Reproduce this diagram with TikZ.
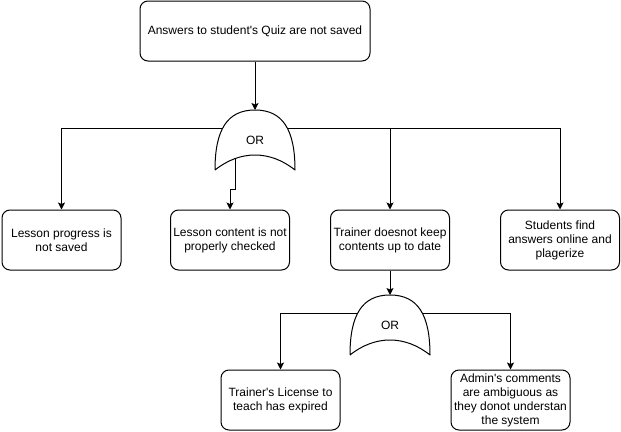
\documentclass[tikz,border=0pt]{standalone}
\usepackage{fontspec}
\setmainfont{Liberation Sans}
\usetikzlibrary{arrows.meta}

\tikzset{
  linha/.style={line width=1pt, black},
  seta/.style={linha, -{Stealth[length=7pt,width=7pt,inset=1.5pt]}},
  caixa/.style={linha, draw, rounded corners=8pt, align=center,
    minimum width=119pt, minimum height=60pt, inner sep=0pt,
    font=\fontsize{12}{14}\selectfont},
  texto/.style={font=\fontsize{12}{14}\selectfont, inner sep=0pt}
}

% Porta OR: #1 nome, #2 canto superior esquerdo
\newcommand{\portaou}[2]{%
  \begin{scope}[shift={#2}]
    \draw[linha, line join=round] (0,60) .. controls (0,20) and (12,0) .. (40,0)
      .. controls (68,0) and (80,20) .. (80,60)
      .. controls (55,40) and (25,40) .. (0,60);
    \node[texto] (#1) at (40,30) {OR};
    \coordinate (#1-topo) at (40,0);
    \coordinate (#1-esq) at (7.5,18);
    \coordinate (#1-dir) at (72.5,18);
    \coordinate (#1-base) at (20,48.7);
  \end{scope}}

\begin{document}
\begin{tikzpicture}[x=1pt, y=-1pt]

    % Fundo
    \fill[white] (0,0) rectangle (621,431);
    \useasboundingbox (0,0) rectangle (621,431);

    % Evento de topo
    \node[caixa, minimum width=230pt] (topo) at (255,31) {Answers to student\textquotesingle s Quiz are not saved};

    % Portas
    \portaou{ou1}{(215,110)}
    \portaou{ou2}{(350,295)}

    % Causas
    \node[caixa] (progresso) at (61.5,240) {Lesson progress is\\not saved};
    \node[caixa] (conteudo) at (230,240) {Lesson content is not\\properly checked};
    \node[caixa] (treinador) at (390,240) {Trainer doesnot keep\\contents up to date};
    \node[caixa] (alunos) at (560,240) {Students find\\answers online and\\plagerize};
    \node[caixa] (licenca) at (280.5,400) {Trainer\textquotesingle s License to\\teach has expired};
    \node[caixa] (admin) at (510.5,400) {Admin\textquotesingle s comments\\are ambiguous as\\they donot understan\\the system};

    % Ligações
    \coordinate (dobra) at (235,189);
    \draw[seta] (topo.south) -- (ou1-topo);
    \draw[seta] (ou1-esq) -| (progresso.north);
    \draw[seta] (ou1-base) -- (dobra) -| (conteudo.north);
    \draw[seta] (ou1-dir) -| (treinador.north);
    \draw[seta] (ou1-dir) -| (alunos.north);
    \draw[seta] (treinador.south) -- (ou2-topo);
    \draw[seta] (ou2-esq) -| (licenca.north);
    \draw[seta] (ou2-dir) -| (admin.north);

\end{tikzpicture}
\end{document}
